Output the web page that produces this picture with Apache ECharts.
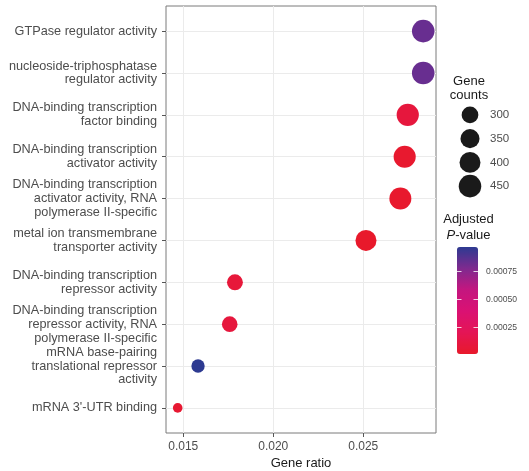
<!DOCTYPE html>
<html>
<head>
<meta charset="utf-8">
<script src="https://cdn.jsdelivr.net/npm/echarts@6/dist/echarts.min.js"></script>
<style>
  html, body { margin: 0; padding: 0; background: #ffffff; }
  #chart { width: 529px; height: 471px; }
</style>
</head>
<body>
<div id="chart"></div>
<script>
// GO molecular-function terms, top to bottom
const terms = [
  'GTPase regulator activity',
  'nucleoside-triphosphatase\nregulator activity',
  'DNA-binding transcription\nfactor binding',
  'DNA-binding transcription\nactivator activity',
  'DNA-binding transcription\nactivator activity, RNA\npolymerase II-specific',
  'metal ion transmembrane\ntransporter activity',
  'DNA-binding transcription\nrepressor activity',
  'DNA-binding transcription\nrepressor activity, RNA\npolymerase II-specific',
  'mRNA base-pairing\ntranslational repressor\nactivity',
  "mRNA 3'-UTR binding"
];
const geneRatio  = [0.02833, 0.02833, 0.02747, 0.02730, 0.02706, 0.02515, 0.01787, 0.01758, 0.01582, 0.01469];
const geneCounts = [453, 453, 440, 437, 433, 402, 286, 281, 253, 235];
const adjP       = [0.00083, 0.00083, 0.00009, 0.00003, 0.00002, 0.00001, 0.00008, 0.00009, 0.00097, 0.00004];

const xTicks      = [0.015, 0.020, 0.025];
const xMinorTicks = [0.0175, 0.0225, 0.0275];
const sizeBreaks  = [300, 350, 400, 450];
const pTicks      = [0.00025, 0.00050, 0.00075];

const FONT = "'Liberation Sans', Arial, Helvetica, sans-serif";
const AXIS_TEXT = '#4d4d4d';
const TITLE_TEXT = '#1a1a1a';
const GRID_LINE = '#ebebeb';

// area-style size scale: diameter grows with sqrt of the rescaled count
const cMin = Math.min(...geneCounts), cMax = Math.max(...geneCounts);
const D_MIN = 9.6, D_MAX = 22.6;
function sizeFor(c) {
  const t = Math.max(0, (c - cMin) / (cMax - cMin));
  return D_MIN + (D_MAX - D_MIN) * Math.sqrt(t);
}
const pMin = Math.min(...adjP), pMax = Math.max(...adjP);

const chart = echarts.init(document.getElementById('chart'), null, { renderer: 'canvas' });

const option = {
  animation: false,
  backgroundColor: '#ffffff',
  textStyle: { fontFamily: FONT },
  grid: [
    // main panel
    { left: 166, top: 6, width: 270, height: 427, show: true, borderColor: '#7a7a7a', borderWidth: 1,
      backgroundColor: 'transparent', containLabel: false, outerBoundsMode: 'none' },
    // size key
    { left: 458, top: 103, width: 24, height: 95, containLabel: false, outerBoundsMode: 'none' },
    // colour bar
    { left: 457, top: 247, width: 21, height: 107, containLabel: false, outerBoundsMode: 'none' }
  ],
  xAxis: [
    {
      gridIndex: 0, type: 'value', min: 0.01404, max: 0.02904, position: 'bottom',
      name: 'Gene ratio', nameLocation: 'middle', nameGap: 24, nameMoveOverlap: false,
      nameTextStyle: { fontSize: 13, color: TITLE_TEXT, fontFamily: FONT },
      axisLine: { show: false, onZero: false },
      axisTick: { show: true, length: 4, customValues: xTicks, lineStyle: { color: '#555555', width: 1 } },
      axisLabel: { customValues: xTicks, margin: 8, fontSize: 12, color: AXIS_TEXT, fontFamily: FONT,
                   formatter: v => v.toFixed(3) },
      splitLine: { show: true, lineStyle: { color: GRID_LINE, width: 1 } },
      minorTick: { show: false }, minorSplitLine: { show: false }
    },
    { gridIndex: 1, type: 'value', min: 0, max: 1, show: false },
    { gridIndex: 2, type: 'value', min: 0, max: 1, show: false }
  ],
  yAxis: [
    {
      gridIndex: 0, type: 'value', inverse: true, min: -0.6, max: terms.length - 0.4, position: 'left',
      axisLine: { show: false, onZero: false },
      axisTick: { show: true, length: 4, customValues: terms.map((_, i) => i), lineStyle: { color: '#555555', width: 1 } },
      axisLabel: { customValues: terms.map((_, i) => i), margin: 9, fontSize: 12.7, lineHeight: 13.9,
                   padding: [7, 0, 0, 0],
                   color: AXIS_TEXT, fontFamily: FONT, align: 'right',
                   formatter: v => terms[Math.round(v)] },
      splitLine: { show: true, lineStyle: { color: GRID_LINE, width: 1 } }
    },
    {
      gridIndex: 1, type: 'category', inverse: true, position: 'right',
      data: sizeBreaks.map(String),
      axisLine: { show: false, onZero: false }, axisTick: { show: false }, splitLine: { show: false },
      axisLabel: { margin: 8, fontSize: 11.5, color: AXIS_TEXT, fontFamily: FONT }
    },
    {
      gridIndex: 2, type: 'value', min: pMin, max: pMax, position: 'right', z: 10,
      axisLine: { show: false, onZero: false }, splitLine: { show: false },
      axisTick: { show: true, inside: true, length: 4.5, customValues: pTicks, lineStyle: { color: '#ffffff', width: 1, opacity: 0.8 } },
      axisLabel: { customValues: pTicks, margin: 8, fontSize: 8.6, color: AXIS_TEXT, fontFamily: FONT,
                   formatter: v => v.toFixed(5) }
    },
    {
      gridIndex: 2, type: 'value', min: pMin, max: pMax, position: 'left', z: 10,
      axisLine: { show: false, onZero: false }, splitLine: { show: false }, axisLabel: { show: false },
      axisTick: { show: true, inside: true, length: 4.5, customValues: pTicks, lineStyle: { color: '#ffffff', width: 1, opacity: 0.8 } }
    }
  ],
  visualMap: [{
    type: 'continuous',
    seriesIndex: 0, dimension: 2,
    min: pMin, max: pMax,
    orient: 'vertical', left: 457, top: 247,
    itemWidth: 21, itemHeight: 107, padding: 0,
    calculable: false, hoverLink: false,
    inRange: { color: ['#e8192b', '#e41555', '#da1173', '#c4167f', '#7e2a8f', '#2d3a91'] }
  }],
  series: [
    {
      type: 'scatter', xAxisIndex: 0, yAxisIndex: 0, z: 3,
      data: terms.map((_, i) => [geneRatio[i], i, adjP[i], geneCounts[i]]),
      symbol: 'circle',
      symbolSize: v => sizeFor(v[3]),
      itemStyle: { opacity: 1 },
      silent: true
    },
    {
      // minor vertical grid lines
      type: 'scatter', xAxisIndex: 0, yAxisIndex: 0, z: 1, data: [], silent: true,
      markLine: {
        silent: true, symbol: ['none', 'none'], label: { show: false },
        lineStyle: { color: GRID_LINE, width: 0.8, type: 'solid' },
        data: xMinorTicks.map(x => ({ xAxis: x }))
      }
    },
    {
      // size key circles
      type: 'scatter', xAxisIndex: 1, yAxisIndex: 1, z: 3, silent: true,
      data: sizeBreaks.map((c, i) => [0.5, i, c]),
      symbol: 'circle',
      symbolSize: v => sizeFor(v[2]),
      itemStyle: { color: '#1a1a1a', opacity: 1 }
    }
  ],
  graphic: [
    { type: 'text', x: 469, y: 81, style: { text: 'Gene', font: '13px ' + FONT, fill: TITLE_TEXT, align: 'center', verticalAlign: 'middle' } },
    { type: 'text', x: 469, y: 95.5, style: { text: 'counts', font: '13px ' + FONT, fill: TITLE_TEXT, align: 'center', verticalAlign: 'middle' } },
    { type: 'text', x: 468.5, y: 219.5, style: { text: 'Adjusted', font: '13px ' + FONT, fill: TITLE_TEXT, align: 'center', verticalAlign: 'middle' } },
    { type: 'text', x: 468.5, y: 235, style: {
        text: '{i|P}-value', font: '13px ' + FONT, fill: TITLE_TEXT, align: 'center', verticalAlign: 'middle',
        rich: { i: { fontStyle: 'italic', fontSize: 13, fontFamily: FONT, fill: TITLE_TEXT } }
      } }
  ]
};

chart.setOption(option);
</script>
</body>
</html>
